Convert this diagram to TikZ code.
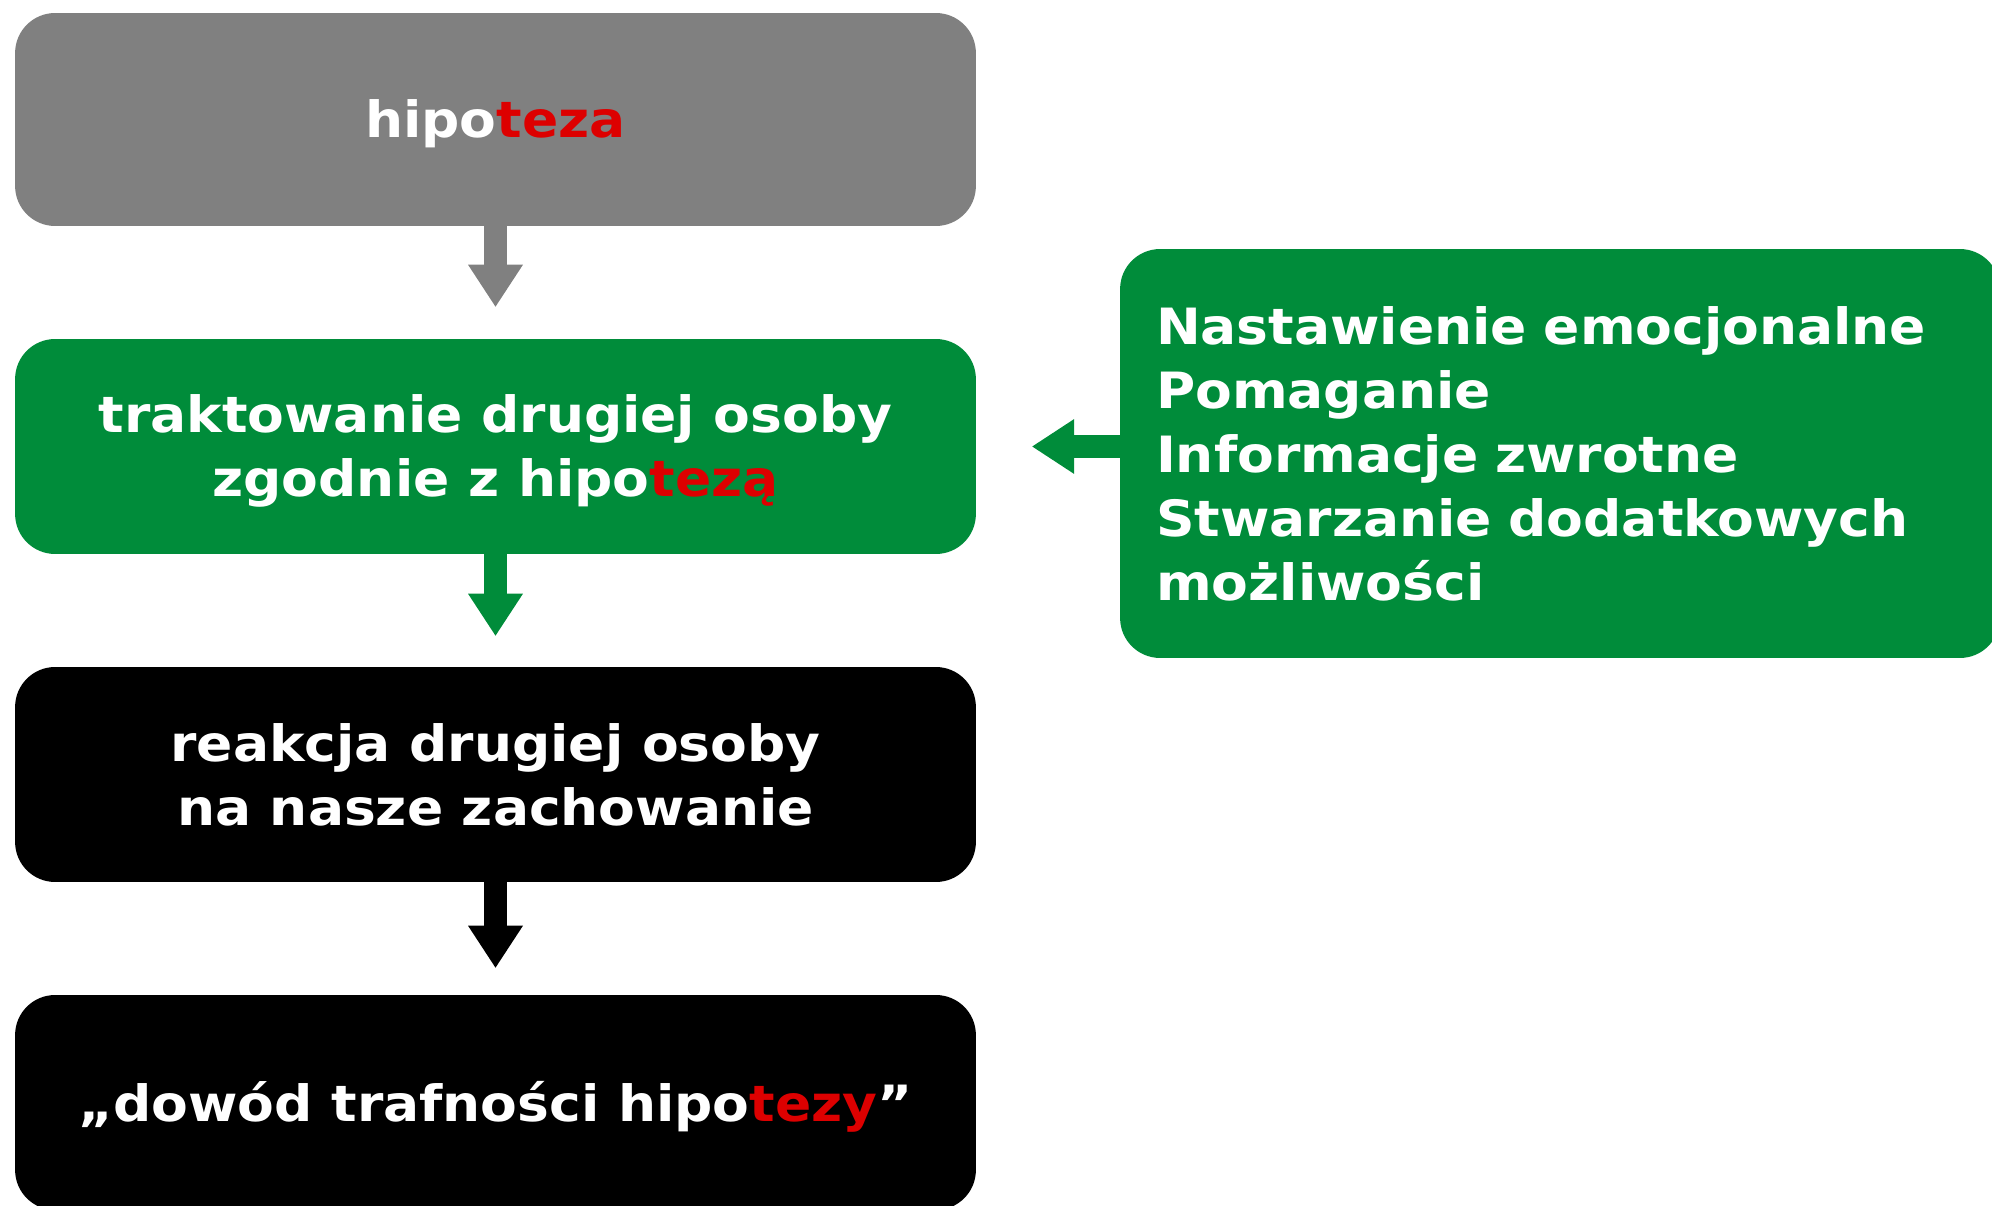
\documentclass[tikz,border=0pt]{standalone}
\usepackage{fontspec}
\setmainfont[FakeStretch = 1.07]{DejaVu Sans}
\usetikzlibrary{arrows.meta}
\definecolor{boxgray}{HTML}{808080}
\definecolor{boxgreen}{HTML}{008C3A}
\definecolor{tezared}{HTML}{DD0000}
\newcommand{\teza}[1]{\textcolor{tezared}{#1}}

\begin{document}
\begin{tikzpicture}[x = 0.02cm, y = 0.02cm,
		box/.style = {rounded corners = 0.8cm, minimum width = 19.22cm, minimum height = 4.3cm,
			text = white, align = center, font = \fontsize{28.45}{36.4}\selectfont\bfseries},
		lowtext/.style = {text depth = 0.04cm},
		flow/.style = {line width = 0.46cm, -{Triangle[width = 1.1cm, length = 0.84cm, line width = 0pt]}, shorten > = 0.64cm}]
		% frame
		\useasboundingbox (0, 0) rectangle (1992, -1206);
		% the chain
		\node[box, lowtext, fill = boxgray, minimum height = 4.26cm] (hipoteza) at (495.5, -119.5) {hipo\teza{teza}};
		\node[box, lowtext, fill = boxgreen] (traktowanie) at (495.5, -446.5) {traktowanie drugiej osoby\\zgodnie z hipo\teza{tezą}};
		\node[box, fill = black] (reakcja) at (495.5, -774.5) {reakcja drugiej osoby\\na nasze zachowanie};
		\node[box, lowtext, fill = black] (dowod) at (495.5, -1102.5) {„dowód trafności hipo\teza{tezy}”};
		% the side box
		\node[box, fill = boxgreen, minimum width = 17.6cm, minimum height = 8.18cm, text width = 16.16cm,
			inner xsep = 0.72cm, align = left] (sposoby) at (1560, -453.5)
			{Nastawienie emocjonalne\\Pomaganie\\Informacje zwrotne\\Stwarzanie dodatkowych\\możliwości};
		% arrows
		\draw[flow, color = boxgray] (hipoteza.south) -- (traktowanie.north);
		\draw[flow, color = boxgreen, shorten > = 0.62cm] (traktowanie.south) -- (reakcja.north);
		\draw[flow, color = black, shorten > = 0.54cm] (reakcja.south) -- (dowod.north);
		\draw[flow, color = boxgreen, shorten > = 1.12cm] (sposoby.west |- traktowanie.east) -- (traktowanie.east);
	\end{tikzpicture}
\end{document}
